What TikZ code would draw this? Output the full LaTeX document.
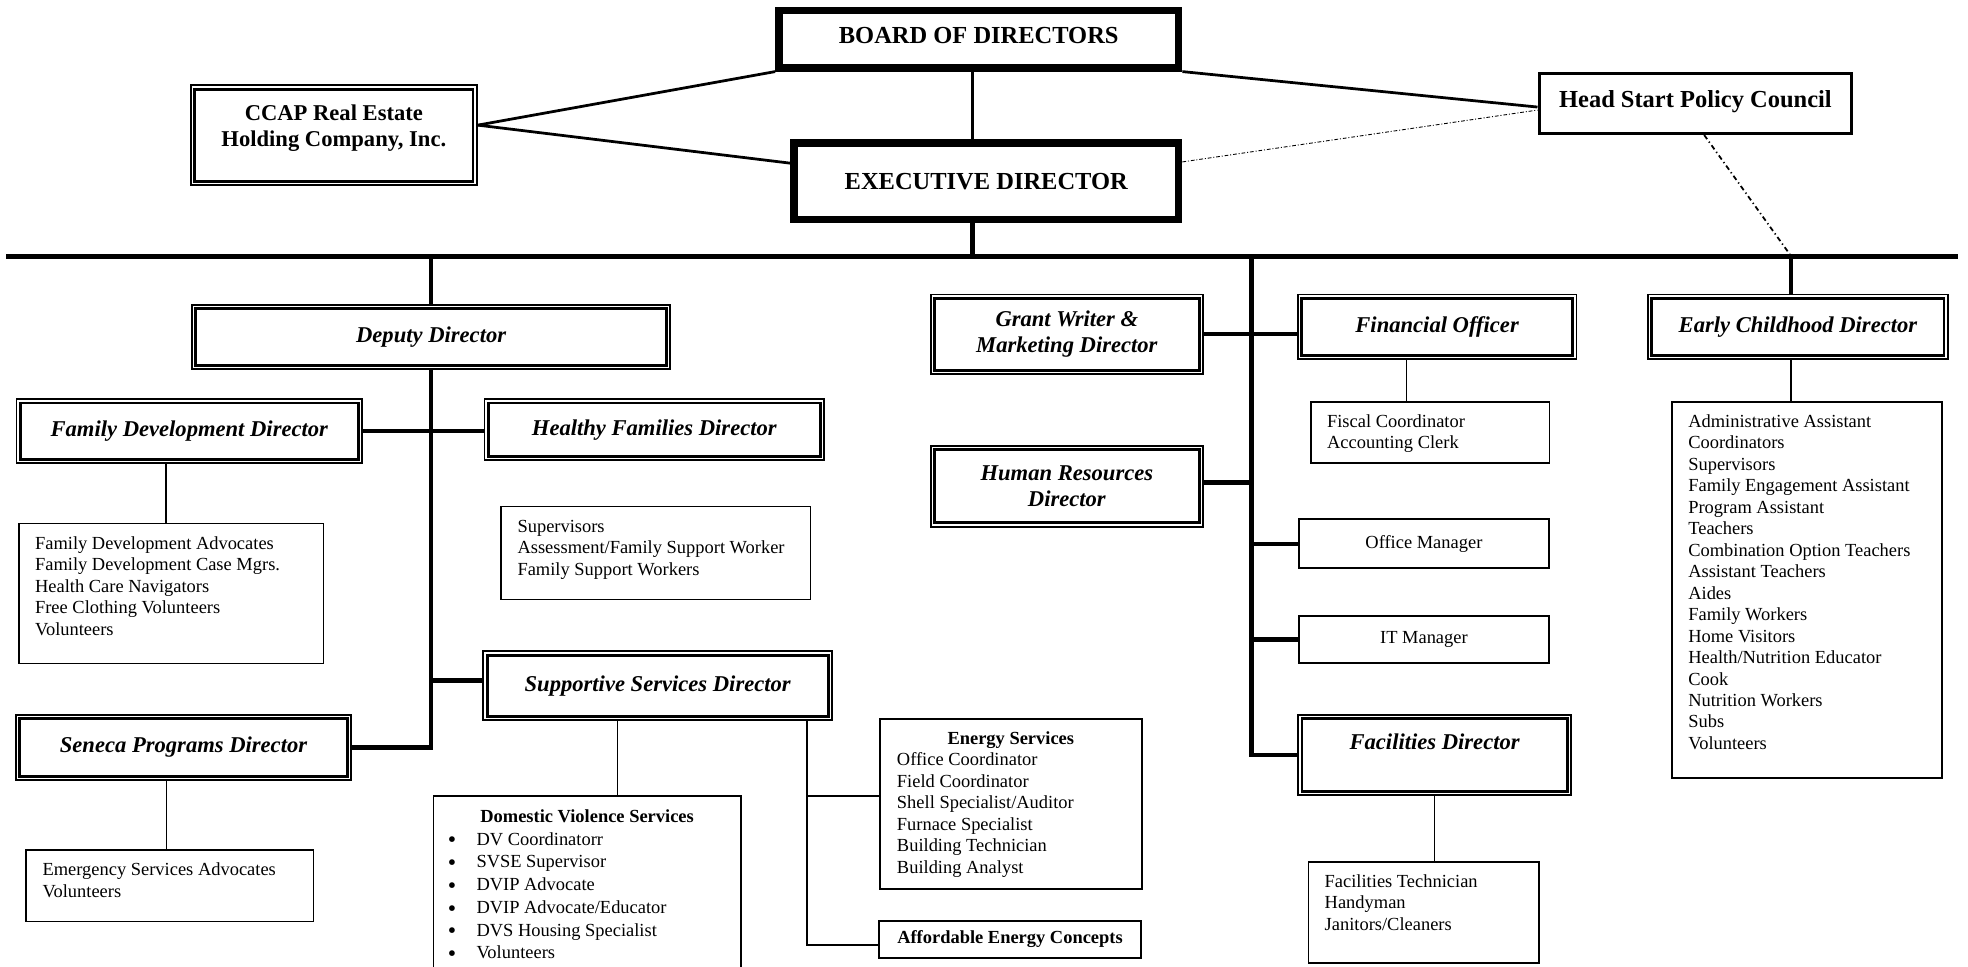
\documentclass[tikz,border=0pt]{standalone}
\usepackage{fontspec}
\setmainfont{Liberation Serif}
\newcommand{\roster}[3]{\parbox[c][#2][t]{#1}{\leftskip=13pt\relax\vspace*{8.5pt}\strut#3}}
\newcommand{\dvitem}{\makebox[22.8pt][l]{\raisebox{-2.2pt}{\fontsize{19}{0}\selectfont\textbullet}}}
\tikzset{
  topbox/.style={draw, line width=6pt, inner sep=0pt, font=\fontsize{19.5}{22}\selectfont\bfseries},
  councilbox/.style={draw, line width=2.7pt, inner sep=0pt, font=\fontsize{19.5}{22}\selectfont\bfseries},
  dirbox/.style={draw, line width=1.4pt, inner sep=0pt, align=center,
    font=\fontsize{18}{21}\selectfont\bfseries\itshape,
    path picture={\draw[line width=2.3pt]
      ([shift={(3.1pt,-3.1pt)}]path picture bounding box.north west) rectangle
      ([shift={(-3.1pt,3.1pt)}]path picture bounding box.south east);}},
  listbox/.style={draw, line width=1.3pt, inner sep=0pt, anchor=north west,
    font=\fontsize{14.7}{17.1}\selectfont},
  bus/.style={line width=4pt},
  spine/.style={line width=3.5pt},
  uplink/.style={line width=2.2pt},
  link/.style={line width=1.3pt},
  advisory/.style={line width=0.7pt, dash pattern=on 3pt off 1.5pt on 0.8pt off 1.5pt},
  councillink/.style={line width=1.4pt, dash pattern=on 4pt off 2.5pt on 1pt off 2.5pt},
}
\begin{document}
\begin{tikzpicture}[x=1pt, y=-1pt]
    \useasboundingbox (0,0) rectangle (1568,770);
    \clip (0,0) rectangle (1568,770);
    \node[topbox, minimum width=318.5pt, minimum height=45.7pt, text depth=6pt] (board) at (779.8,31.2) {BOARD OF DIRECTORS};
    \node[topbox, minimum width=306.5pt, minimum height=61pt] (exec) at (785.8,144.5) {EXECUTIVE DIRECTOR};
    \node[dirbox, font=\fontsize{18}{21}\selectfont\bfseries, minimum width=228pt, minimum height=79.4pt] (ccap) at (266,107.7) {CCAP Real Estate\\Holding Company, Inc.\\[-6pt]\mbox{}};
    \node[councilbox, minimum width=248.9pt, minimum height=47.9pt, text depth=7pt] (council) at (1350.8,82.3) {Head Start Policy Council};
    \coordinate (busL) at (5,204);
    \coordinate (busR) at (1560,204);
    \coordinate (hub) at (997,204);
    \coordinate (ecjoin) at (1427,204);
    \draw[bus] (busL) -- (busR);
    \draw[uplink] ([yshift=8pt]ccap.east) -- (board.south west);
    \draw[uplink] ([yshift=8pt]ccap.east) -- ([yshift=14.5pt]exec.west);
    \draw[uplink] ([xshift=-5pt]board.south) -- ([xshift=-5pt]board.south |- exec.north);
    \draw[uplink] (board.south east) -- ([yshift=-3pt]council.west);
    \draw[advisory] ([yshift=15.5pt]exec.east) -- ([yshift=-5.4pt]council.west);
    \draw[councillink] ([xshift=7pt]council.south) -- (ecjoin);
    \draw[spine] ([xshift=-11pt]exec.south) -- ([xshift=-11pt]exec.south |- busL);
    \node[dirbox, minimum width=381pt, minimum height=51pt] (deputy) at (343.5,268.5) {Deputy Director};
    \node[dirbox, minimum width=275.5pt, minimum height=51pt] (famdev) at (150.8,343.5) {Family Development Director};
    \node[dirbox, minimum width=270.6pt, minimum height=48.6pt] (healthy) at (521.3,342.3) {Healthy Families Director};
    \node[dirbox, minimum width=278pt, minimum height=54.7pt] (support) at (524,546.3) {Supportive Services Director};
    \node[dirbox, minimum width=266.9pt, minimum height=51.8pt] (seneca) at (146.2,595.6) {Seneca Programs Director};
    \node[listbox] (fdlist) at (14.3,416.5) {\roster{242.7pt}{111.5pt}{Family Development Advocates\\Family Development Case Mgrs.\\Health Care Navigators\\Free Clothing Volunteers\\Volunteers}};
    \node[listbox] (hflist) at (398.7,403) {\roster{246.3pt}{74pt}{Supervisors\\Assessment/Family Support Worker\\Family Support Workers}};
    \node[listbox] (snlist) at (20.3,676.6) {\roster{228.7pt}{57pt}{Emergency Services Advocates\\Volunteers}};
    \node[listbox, font=\fontsize{14.7}{18.1}\selectfont] (dvlist) at (344.6,633.5) {\parbox[c][160pt][t]{245pt}{\vspace*{8.5pt}\centering\strut\textbf{Domestic Violence Services}\par
      \raggedright\leftskip=11.6pt
      \dvitem DV Coordinatorr\\
      \dvitem SVSE Supervisor\\
      \dvitem DVIP Advocate\\
      \dvitem DVIP Advocate/Educator\\
      \dvitem DVS Housing Specialist\\
      \dvitem Volunteers}};
    \node[listbox] (enlist) at (700.4,572) {\parbox[c][135.6pt][t]{208.6pt}{\vspace*{8.5pt}\centering\strut\textbf{Energy Services}\par
      \raggedright\leftskip=13.6pt
      Office Coordinator\\Field Coordinator\\Shell Specialist/Auditor\\Furnace Specialist\\Building Technician\\Building Analyst}};
    \node[listbox, anchor=center, minimum width=208.6pt, minimum height=29.8pt, font=\fontsize{14.7}{17.1}\selectfont\bfseries] (aec) at (804.7,748.5) {Affordable Energy Concepts};
    \draw[spine] (deputy.north |- busL) -- (deputy.north);
    \draw[spine] (deputy.south) |- (seneca.east);
    \draw[spine] (famdev.east) -- (famdev.east -| healthy.west);
    \draw[spine] ([yshift=4pt]support.west -| deputy.south) -- ([yshift=4pt]support.west);
    \draw[link] ([xshift=-4pt]fdlist.north) -- ([xshift=-4pt]fdlist.north |- famdev.south);
    \draw[link] ([xshift=-2.6pt]snlist.north) -- ([xshift=-2.6pt]snlist.north |- seneca.south);
    \draw[link] ([xshift=-32pt]support.south) -- ([xshift=-32pt]support.south |- dvlist.north);
    \draw[link] ([xshift=119pt]support.south) |- ([yshift=6pt]enlist.west);
    \draw[link] ([xshift=119pt]support.south) |- ([yshift=-4.5pt]aec.west);
    \node[dirbox, minimum width=217pt, minimum height=63.5pt] (grant) at (850,266.3) {Grant Writer \&\\Marketing Director};
    \node[dirbox, minimum width=222pt, minimum height=51.5pt] (finance) at (1145,260.3) {Financial Officer};
    \node[dirbox, minimum width=217pt, minimum height=64.3pt] (hr) at (850,387.5) {Human Resources\\Director};
    \node[listbox] (fclist) at (1043.7,319.5) {\roster{190.3pt}{48.5pt}{Fiscal Coordinator\\Accounting Clerk}};
    \node[listbox, anchor=center, minimum width=199pt, minimum height=39pt] (office) at (1134.5,433.2) {Office Manager};
    \node[listbox, anchor=center, minimum width=199pt, minimum height=37.2pt] (itman) at (1134.5,509.4) {IT Manager};
    \node[dirbox, minimum width=217.5pt, minimum height=63.8pt, text depth=22pt] (facil) at (1143,601.6) {Facilities Director};
    \node[listbox] (falist) at (1041.8,686) {\roster{183.8pt}{80.5pt}{Facilities Technician\\Handyman\\Janitors/Cleaners}};
    \draw[spine] (hub) |- (facil.west);
    \draw[spine] (grant.east) -- (grant.east -| finance.west);
    \draw[spine] ([yshift=3pt]hr.east) -- ([yshift=3pt]hr.east -| hub);
    \draw[spine] (office.west -| hub) -- (office.west);
    \draw[spine] (itman.west -| hub) -- (itman.west);
    \draw[link] ([xshift=-19pt]fclist.north) -- ([xshift=-19pt]fclist.north |- finance.south);
    \draw[link] (facil.south) -- (facil.south |- falist.north);
    \node[dirbox, minimum width=239pt, minimum height=51.5pt] (early) at (1432.5,260.3) {Early Childhood Director};
    \node[listbox] (eclist) at (1331.5,319.5) {\roster{215.1pt}{299.5pt}{Administrative Assistant\\Coordinators\\Supervisors\\Family Engagement Assistant\\Program Assistant\\Teachers\\Combination Option Teachers\\Assistant Teachers\\Aides\\Family Workers\\Home Visitors\\Health/Nutrition Educator\\Cook\\Nutrition Workers\\Subs\\Volunteers}};
    \draw[spine] (ecjoin) -- (ecjoin |- early.north);
    \draw[link] (ecjoin |- early.south) -- (ecjoin |- eclist.north);
\end{tikzpicture}
\end{document}
